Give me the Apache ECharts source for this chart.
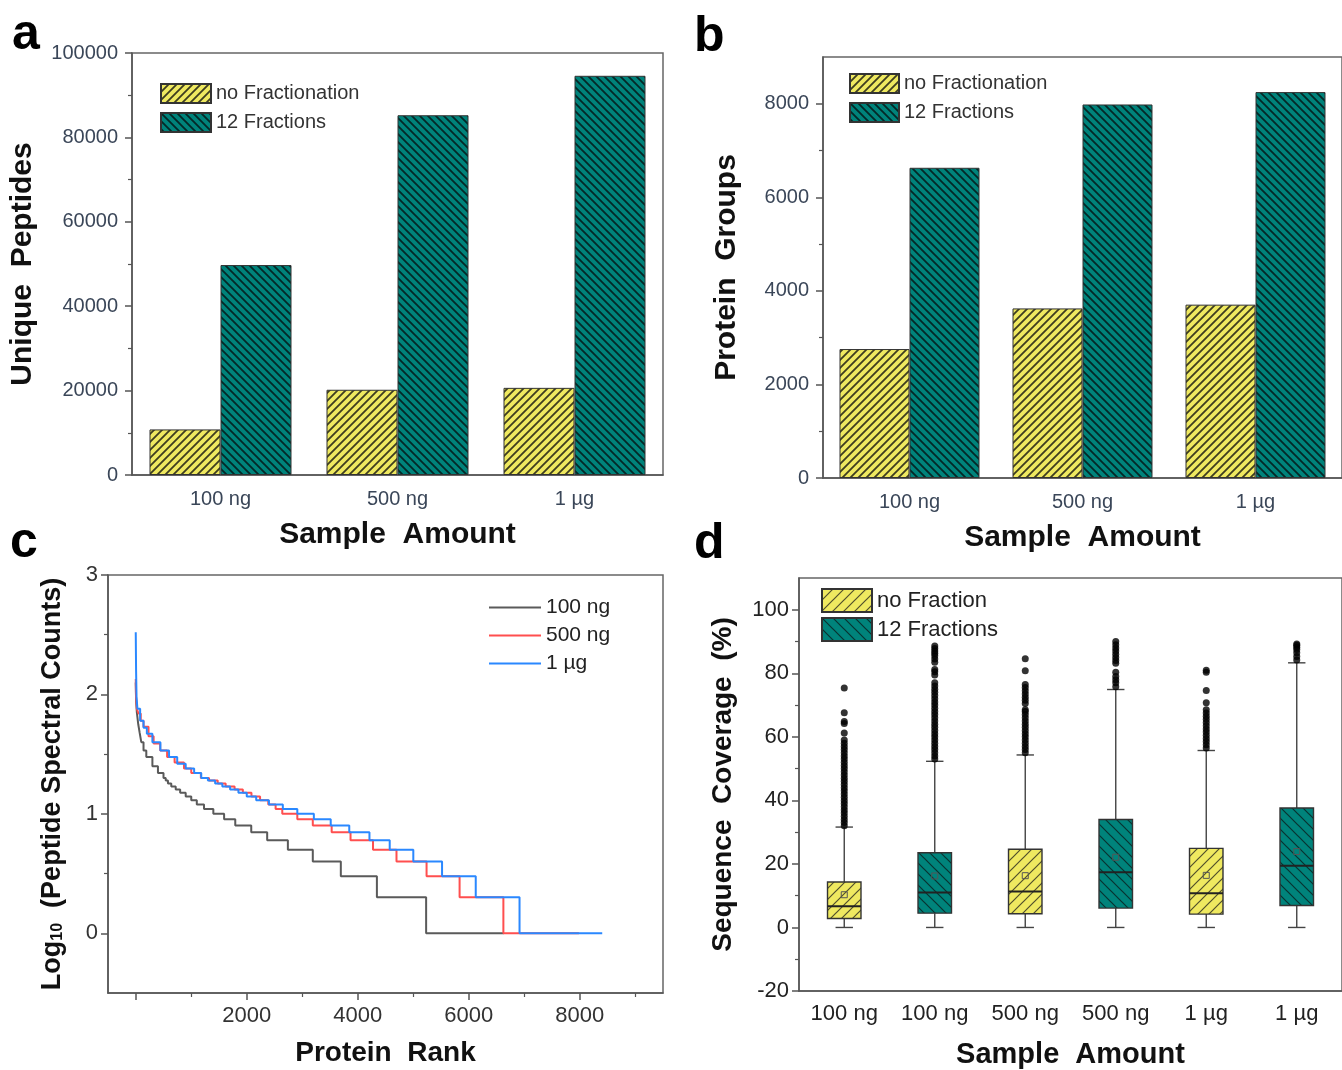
<!DOCTYPE html>
<html><head><meta charset="utf-8">
<script src="https://cdn.jsdelivr.net/npm/echarts@6/dist/echarts.min.js"></script>
<style>html,body{margin:0;padding:0;background:#fff}#c{width:1342px;height:1070px}</style>
</head><body><div id="c"></div>
<script>
// ---------------- data ----------------
const sampleCats = ['100 ng', '500 ng', '1 µg'];
const peptidesNoFrac = [10800, 20200, 20650];
const peptides12Frac = [49750, 85250, 94600];
const proteinsNoFrac = [2757, 3625, 3706];
const proteins12Frac = [6632, 7985, 8250];

const peptideTicks = [0, 20000, 40000, 60000, 80000, 100000];
const proteinTicks = [0, 2000, 4000, 6000, 8000];
const proteinMinorTicks = [1000, 3000, 5000, 7000];
const rankTickLabels = [2000, 4000, 6000, 8000];
const rankMajorTicks = [0, 2000, 4000, 6000, 8000];
const rankMinorTicks = [1000, 3000, 5000, 7000, 9000];
const logTicks = [0, 1, 2, 3];
const logMinorTicks = [0.5, 1.5, 2.5];
const coverageTicks = [-20, 0, 20, 40, 60, 80, 100];
const coverageMinorTicks = [-10, 10, 30, 50, 70, 90];

// [protein rank, log10(peptide spectral counts)]
const curve100ng = [[0,2.10],[6,1.95],[20,1.85],[45,1.75],[70,1.68],[100,1.60],[140,1.53],[190,1.477],[300,1.398],[400,1.342],[500,1.301],[540,1.279],[580,1.255],[640,1.230],[720,1.204],[800,1.176],[900,1.146],[1000,1.114],[1100,1.079],[1230,1.041],[1398,1.0],[1592,0.954],[1793,0.903],[2081,0.845],[2368,0.778],[2741,0.699],[3190,0.602],[3695,0.477],[4345,0.301],[5232,0],[6632,0]];
const curve500ng = [[0,2.13],[5,1.98],[20,1.88],[49,1.84],[90,1.78],[140,1.73],[230,1.65],[322,1.59],[440,1.53],[565,1.477],[700,1.431],[869,1.38],[1000,1.342],[1173,1.301],[1320,1.279],[1477,1.255],[1620,1.230],[1781,1.204],[1930,1.176],[2085,1.146],[2240,1.114],[2388,1.079],[2520,1.041],[2640,1.0],[2911,0.954],[3190,0.903],[3530,0.845],[3870,0.778],[4275,0.699],[4698,0.602],[5240,0.477],[5835,0.301],[6624,0],[7985,0]];
const curve1ug = [[0,2.52],[6,2.2],[14,1.98],[30,1.88],[79,1.78],[140,1.72],[200,1.67],[300,1.60],[444,1.53],[600,1.477],[747,1.42],[900,1.38],[1052,1.342],[1180,1.301],[1300,1.279],[1430,1.255],[1560,1.230],[1700,1.204],[1850,1.176],[2000,1.146],[2170,1.114],[2400,1.079],[2650,1.041],[2911,1.0],[3209,0.954],[3513,0.903],[3847,0.845],[4211,0.778],[4576,0.699],[5001,0.602],[5519,0.477],[6126,0.301],[6915,0],[8405,0]];

const boxCats = ['100 ng', '100 ng', '500 ng', '500 ng', '1 µg', '1 µg'];
// [category index, lower whisker, Q1, median, Q3, upper whisker, mean]
const boxNoFraction = [[0, 0, 2.8, 6.7, 14.3, 31.6, 10.3], [2, 0, 4.3, 11.3, 24.6, 54.3, 16.3], [4, 0, 4.2, 10.8, 24.9, 55.7, 16.4]];
const box12Fractions = [[1, 0, 4.5, 11.0, 23.5, 52.3, 16.2], [3, 0, 6.1, 17.4, 34.0, 74.9, 22.1], [5, 0, 6.9, 19.4, 37.6, 83.3, 23.9]];
const outliers100ngNoFrac = [32,33,34,35,36,37,38,39,40,41,42,43,44,45,46,47,48,49,50,51,52,53,54,55,56,57,58,59,61.2,64.2,64.8,67.6,75.4];
const outliers100ng12Frac = [53,54,55,56,57,58,59,60,61,62,63,64,65,66,67,68,69,70,71,72,73,74,75,76,77,79.5,80.5,81.2,83.5,84.5,85.5,86.3,87,87.8,88.6];
const outliers500ngNoFrac = [55,56,57,58,59,60,61,62,63,64,65,66,67,68,68.5,70.5,71.5,72.5,73.5,74.5,75.5,76.5,80.8,84.6];
const outliers500ng12Frac = [75.8,77,78,79,80.3,83.2,84,85,86,87,88,89,90];
const outliers1ugNoFrac = [56.5,57.5,58.5,59.5,60.5,61.5,62.5,63.5,64.5,65.5,66.5,67.5,68.5,70.7,74.6,80.3,81];
const outliers1ug12Frac = [84.2,85.3,86.5,87.5,88.2,88.8,89.2];

// ---------------- styling helpers ----------------
const FONT = '"Liberation Sans", Arial, sans-serif';
function hatch(bg, line, size, lw, dir) {
  const c = document.createElement('canvas');
  c.width = size; c.height = size;
  const g = c.getContext('2d');
  g.fillStyle = bg; g.fillRect(0, 0, size, size);
  g.strokeStyle = line; g.lineWidth = lw;
  g.beginPath();
  if (dir > 0) {
    g.moveTo(0, size); g.lineTo(size, 0);
    g.moveTo(-size / 2, size / 2); g.lineTo(size / 2, -size / 2);
    g.moveTo(size / 2, size * 1.5); g.lineTo(size * 1.5, size / 2);
  } else {
    g.moveTo(0, 0); g.lineTo(size, size);
    g.moveTo(-size / 2, size / 2); g.lineTo(size / 2, size * 1.5);
    g.moveTo(size / 2, -size / 2); g.lineTo(size * 1.5, size / 2);
  }
  g.stroke();
  return { image: c, repeat: 'repeat' };
}
const YEL = '#efe960', TEAL = '#00837b';
const patYab = hatch(YEL, 'rgba(30,30,20,0.85)', 8, 1.8, 1);
const patTab = hatch(TEAL, 'rgba(5,25,25,0.85)', 8, 1.8, -1);
const patYd = hatch(YEL, 'rgba(40,40,30,0.8)', 11, 1.2, 1);
const patTd = hatch(TEAL, 'rgba(10,30,30,0.8)', 11, 1.2, -1);

const AXC = '#555';
const axLine = { show: true, onZero: false, lineStyle: { color: AXC, width: 1.5 } };
const noLine = { show: false, onZero: false };
const LAB_AB = '#3a4658';
const plain = v => String(v);
const title = (size) => ({ fontSize: size, fontWeight: 'bold', color: '#111', fontFamily: FONT });
const noSplit = { show: false };

function gridOf(left, top, width, height) {
  return { left, top, width, height, show: true, borderColor: '#666', borderWidth: 1.5, backgroundColor: 'transparent' };
}

function renderBox(pattern) {
  return function (params, api) {
    const x = api.value(0);
    const pMin = api.coord([x, api.value(1)]);
    const pQ1 = api.coord([x, api.value(2)]);
    const pMed = api.coord([x, api.value(3)]);
    const pQ3 = api.coord([x, api.value(4)]);
    const pMax = api.coord([x, api.value(5)]);
    const pMean = api.coord([x, api.value(6)]);
    const band = api.size([1, 0])[0];
    const bw = band * 0.37, cw = bw * 0.52;
    const cx = pMed[0];
    const ls = { stroke: '#444', lineWidth: 1.4 };
    return {
      type: 'group', children: [
        { type: 'line', shape: { x1: cx, y1: pMax[1], x2: cx, y2: pQ3[1] }, style: ls },
        { type: 'line', shape: { x1: cx, y1: pQ1[1], x2: cx, y2: pMin[1] }, style: ls },
        { type: 'line', shape: { x1: cx - cw / 2, y1: pMax[1], x2: cx + cw / 2, y2: pMax[1] }, style: ls },
        { type: 'line', shape: { x1: cx - cw / 2, y1: pMin[1], x2: cx + cw / 2, y2: pMin[1] }, style: ls },
        { type: 'rect', shape: { x: cx - bw / 2, y: pQ3[1], width: bw, height: pQ1[1] - pQ3[1] }, style: { fill: pattern, stroke: '#333', lineWidth: 1.4 } },
        { type: 'line', shape: { x1: cx - bw / 2, y1: pMed[1], x2: cx + bw / 2, y2: pMed[1] }, style: { stroke: '#222', lineWidth: 2 } },
        { type: 'rect', shape: { x: cx - 3, y: pMean[1] - 3, width: 6, height: 6 }, style: { fill: 'none', stroke: '#555', lineWidth: 1 } }
      ]
    };
  };
}
const outlierPts = [].concat(
  outliers100ngNoFrac.map(v => [0, v]), outliers100ng12Frac.map(v => [1, v]),
  outliers500ngNoFrac.map(v => [2, v]), outliers500ng12Frac.map(v => [3, v]),
  outliers1ugNoFrac.map(v => [4, v]), outliers1ug12Frac.map(v => [5, v]));

const legendBase = { orient: 'vertical', padding: 0, selectedMode: false };
const chart = echarts.init(document.getElementById('c'), null, { renderer: 'canvas' });
chart.setOption({
  animation: false,
  backgroundColor: '#fff',
  textStyle: { fontFamily: FONT },
  graphic: [
    { type: 'text', left: 12, top: 10, style: { text: 'a', font: 'bold 50px ' + FONT, fill: '#000' } },
    { type: 'text', left: 694, top: 12, style: { text: 'b', font: 'bold 50px ' + FONT, fill: '#000' } },
    { type: 'text', left: 10, top: 518, style: { text: 'c', font: 'bold 50px ' + FONT, fill: '#000' } },
    { type: 'text', left: 694, top: 519, style: { text: 'd', font: 'bold 50px ' + FONT, fill: '#000' } }
  ],
  grid: [gridOf(132, 53, 531, 422), gridOf(823, 57, 528, 421), gridOf(108, 575, 555, 418), gridOf(799, 578, 546, 415)],
  legend: [
    Object.assign({ data: ['no Fractionation', '12 Fractions'], left: 160, top: 83, icon: 'rect', itemWidth: 50, itemHeight: 19, itemGap: 8, textStyle: { fontSize: 20, color: '#333', lineHeight: 19, fontFamily: FONT } }, legendBase),
    Object.assign({ data: ['no Fractionation', '12 Fractions'], left: 849, top: 73, icon: 'rect', itemWidth: 49, itemHeight: 19, itemGap: 8, textStyle: { fontSize: 20, color: '#333', lineHeight: 19, fontFamily: FONT } }, legendBase),
    Object.assign({ data: ['100 ng', '500 ng', '1 µg'], left: 488, top: 597, itemWidth: 52, itemHeight: 20, itemGap: 7, itemStyle: { opacity: 0 }, textStyle: { fontSize: 21, color: '#222', lineHeight: 20, fontFamily: FONT } }, legendBase),
    Object.assign({ data: ['no Fraction', '12 Fractions '], left: 821, top: 588, icon: 'rect', itemWidth: 50, itemHeight: 23, itemGap: 4, formatter: n => n.trim(), textStyle: { fontSize: 22, color: '#222', lineHeight: 23, fontFamily: FONT } }, legendBase)
  ],
  xAxis: [
    { gridIndex: 0, type: 'category', data: sampleCats, axisLine: axLine, axisTick: { alignWithLabel: true, length: 7, lineStyle: { color: AXC, width: 1.5 } }, axisLabel: { fontSize: 20, color: LAB_AB, margin: 14 }, name: 'Sample  Amount', nameLocation: 'middle', nameGap: 45, nameTextStyle: title(30) },
    { gridIndex: 0, type: 'category', position: 'bottom', data: sampleCats, axisLine: noLine, axisTick: { length: 4, lineStyle: { color: AXC, width: 1.2 } }, axisLabel: { show: false } },
    { gridIndex: 1, type: 'category', data: sampleCats, axisLine: axLine, axisTick: { alignWithLabel: true, length: 7, lineStyle: { color: AXC, width: 1.5 } }, axisLabel: { fontSize: 20, color: LAB_AB, margin: 14 }, name: 'Sample  Amount', nameLocation: 'middle', nameGap: 45, nameTextStyle: title(30) },
    { gridIndex: 1, type: 'category', position: 'bottom', data: sampleCats, axisLine: noLine, axisTick: { length: 4, lineStyle: { color: AXC, width: 1.2 } }, axisLabel: { show: false } },
    { gridIndex: 2, type: 'value', min: -500, max: 9500, axisLine: axLine, splitLine: noSplit, axisTick: { show: true, customValues: rankMajorTicks, length: 7, lineStyle: { color: AXC, width: 1.5 } }, axisLabel: { customValues: rankTickLabels, formatter: plain, fontSize: 22, color: '#333', margin: 12 }, name: 'Protein  Rank', nameLocation: 'middle', nameGap: 46, nameTextStyle: title(28) },
    { gridIndex: 2, type: 'value', position: 'bottom', min: -500, max: 9500, axisLine: noLine, splitLine: noSplit, axisTick: { show: true, customValues: rankMinorTicks, length: 4, lineStyle: { color: AXC, width: 1.2 } }, axisLabel: { show: false } },
    { gridIndex: 3, type: 'category', data: boxCats, axisLine: axLine, axisTick: { alignWithLabel: true, length: 7, lineStyle: { color: AXC, width: 1.5 } }, axisLabel: { interval: 0, fontSize: 22, color: '#222', margin: 12 }, name: 'Sample  Amount', nameLocation: 'middle', nameGap: 49, nameTextStyle: title(29) }
  ],
  yAxis: [
    { gridIndex: 0, type: 'value', min: 0, max: 100000, interval: 20000, axisLine: axLine, splitLine: noSplit, axisTick: { show: true, length: 7, lineStyle: { color: AXC, width: 1.5 } }, minorTick: { show: true, splitNumber: 2, length: 4, lineStyle: { color: AXC, width: 1.2 } }, axisLabel: { formatter: plain, fontSize: 20, color: LAB_AB, margin: 14 }, name: 'Unique  Peptides', nameLocation: 'middle', nameRotate: 90, nameGap: 94, nameTextStyle: title(30) },
    { gridIndex: 1, type: 'value', min: 0, max: 9000, axisLine: axLine, splitLine: noSplit, axisTick: { show: true, customValues: proteinTicks, length: 7, lineStyle: { color: AXC, width: 1.5 } }, axisLabel: { customValues: proteinTicks, formatter: plain, fontSize: 20, color: LAB_AB, margin: 14 }, name: 'Protein  Groups', nameLocation: 'middle', nameRotate: 90, nameGap: 81, nameTextStyle: title(30) },
    { gridIndex: 1, type: 'value', position: 'left', min: 0, max: 9000, axisLine: noLine, splitLine: noSplit, axisTick: { show: true, customValues: proteinMinorTicks, length: 4, lineStyle: { color: AXC, width: 1.2 } }, axisLabel: { show: false } },
    { gridIndex: 2, type: 'value', min: -0.5, max: 3, axisLine: axLine, splitLine: noSplit, axisTick: { show: true, customValues: logTicks, length: 7, lineStyle: { color: AXC, width: 1.5 } }, axisLabel: { customValues: logTicks, formatter: plain, fontSize: 22, color: '#333', margin: 10 },
      name: '{m|Log}{s|10}{m|  (Peptide Spectral Counts)}', nameLocation: 'middle', nameRotate: 90, nameGap: 42,
      nameTextStyle: { rich: { m: title(27), s: Object.assign(title(16), { padding: [10, 0, 0, 0] }) } } },
    { gridIndex: 2, type: 'value', position: 'left', min: -0.5, max: 3, axisLine: noLine, splitLine: noSplit, axisTick: { show: true, customValues: logMinorTicks, length: 4, lineStyle: { color: AXC, width: 1.2 } }, axisLabel: { show: false } },
    { gridIndex: 3, type: 'value', min: -20, max: 110, axisLine: axLine, splitLine: noSplit, axisTick: { show: true, customValues: coverageTicks, length: 7, lineStyle: { color: AXC, width: 1.5 } }, axisLabel: { customValues: coverageTicks, formatter: plain, fontSize: 22, color: '#222', margin: 10 }, name: 'Sequence  Coverage  (%)', nameLocation: 'middle', nameRotate: 90, nameGap: 62, nameTextStyle: title(28) },
    { gridIndex: 3, type: 'value', position: 'left', min: -20, max: 110, axisLine: noLine, splitLine: noSplit, axisTick: { show: true, customValues: coverageMinorTicks, length: 4, lineStyle: { color: AXC, width: 1.2 } }, axisLabel: { show: false } }
  ],
  series: [
    { type: 'bar', name: 'no Fractionation', xAxisIndex: 0, yAxisIndex: 0, data: peptidesNoFrac, barWidth: 71, barGap: '0%', itemStyle: { color: patYab, borderColor: '#333', borderWidth: 1 } },
    { type: 'bar', name: '12 Fractions', xAxisIndex: 0, yAxisIndex: 0, data: peptides12Frac, barWidth: 71, barGap: '0%', itemStyle: { color: patTab, borderColor: '#333', borderWidth: 1 } },
    { type: 'bar', name: 'no Fractionation', xAxisIndex: 2, yAxisIndex: 1, data: proteinsNoFrac, barWidth: 70, barGap: '0%', itemStyle: { color: patYab, borderColor: '#333', borderWidth: 1 } },
    { type: 'bar', name: '12 Fractions', xAxisIndex: 2, yAxisIndex: 1, data: proteins12Frac, barWidth: 70, barGap: '0%', itemStyle: { color: patTab, borderColor: '#333', borderWidth: 1 } },
    { type: 'line', name: '100 ng', xAxisIndex: 4, yAxisIndex: 3, data: curve100ng, step: 'end', symbol: 'none', showSymbol: false, color: '#5a5a5a', lineStyle: { width: 2, color: '#5a5a5a' } },
    { type: 'line', name: '500 ng', xAxisIndex: 4, yAxisIndex: 3, data: curve500ng, step: 'end', symbol: 'none', showSymbol: false, color: '#ff4f4f', lineStyle: { width: 2, color: '#ff4f4f' } },
    { type: 'line', name: '1 µg', xAxisIndex: 4, yAxisIndex: 3, data: curve1ug, step: 'end', symbol: 'none', showSymbol: false, color: '#2a88ff', lineStyle: { width: 2, color: '#2a88ff' } },
    { type: 'custom', name: 'no Fraction', xAxisIndex: 6, yAxisIndex: 5, data: boxNoFraction, encode: { x: 0, y: [1, 2, 3, 4, 5] }, renderItem: renderBox(patYd), itemStyle: { color: patYd, borderColor: '#333', borderWidth: 1.2 } },
    { type: 'custom', name: '12 Fractions ', xAxisIndex: 6, yAxisIndex: 5, data: box12Fractions, encode: { x: 0, y: [1, 2, 3, 4, 5] }, renderItem: renderBox(patTd), itemStyle: { color: patTd, borderColor: '#333', borderWidth: 1.2 } },
    { type: 'scatter', name: 'outliers', xAxisIndex: 6, yAxisIndex: 5, data: outlierPts, symbol: 'circle', symbolSize: 7, itemStyle: { color: '#000' } }
  ]
});
</script>
</body></html>
